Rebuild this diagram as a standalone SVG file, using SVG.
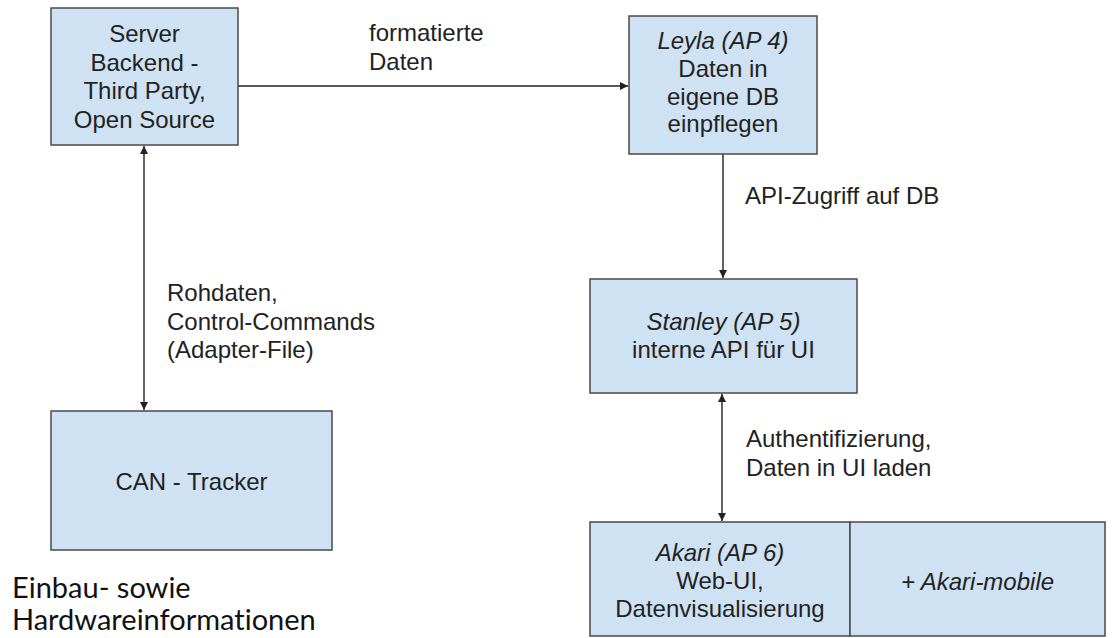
<svg xmlns="http://www.w3.org/2000/svg" width="1114" height="638" viewBox="0 0 1114 638">
<style>
.box{fill:#cfe2f3;stroke:#4a4a4a;stroke-width:1.5}
.t{font-family:"Liberation Sans",Arial,sans-serif;font-size:24px;fill:#222;text-anchor:middle}
.lbl{font-family:"Liberation Sans",Arial,sans-serif;font-size:24px;fill:#222}
.i{font-style:italic}
.c{stroke:#222;stroke-width:1.4;fill:none}
.note{font-family:Lato,"Open Sans",sans-serif;font-size:29px;fill:#111;font-variant-ligatures:none}
</style>
<defs>
<marker id="ah" viewBox="0 0 10 10" refX="10" refY="5" markerWidth="8" markerHeight="8" markerUnits="userSpaceOnUse" orient="auto-start-reverse">
<path d="M0,0 L10,5 L0,10 z" fill="#222"/>
</marker>
</defs>
<rect width="1114" height="638" fill="#ffffff"/>
<g id="connectors">
<line class="c" x1="144" y1="146" x2="144" y2="410" marker-start="url(#ah)" marker-end="url(#ah)"/>
<line class="c" x1="238" y1="86" x2="628" y2="86" marker-end="url(#ah)"/>
<line class="c" x1="723" y1="154" x2="723" y2="278" marker-end="url(#ah)"/>
<line class="c" x1="722" y1="394" x2="722" y2="521" marker-start="url(#ah)" marker-end="url(#ah)"/>
</g>
<g id="labels">
<text class="lbl" x="369" y="41">formatierte</text>
<text class="lbl" x="369" y="70">Daten</text>
<text class="lbl" x="745" y="204">API-Zugriff auf DB</text>
<text class="lbl" x="167" y="301">Rohdaten,</text>
<text class="lbl" x="167" y="330">Control-Commands</text>
<text class="lbl" x="167" y="358">(Adapter-File)</text>
<text class="lbl" x="746" y="447">Authentifizierung,</text>
<text class="lbl" x="746" y="476">Daten in UI laden</text>
</g>
<g id="server">
<rect class="box" x="51" y="8" width="187" height="137"/>
<text class="t" x="144.5" y="42">Server</text>
<text class="t" x="144.5" y="71">Backend -</text>
<text class="t" x="144.5" y="99">Third Party,</text>
<text class="t" x="144.5" y="128">Open Source</text>
</g>
<g id="leyla">
<rect class="box" x="629" y="16" width="188" height="138"/>
<text class="t i" x="723" y="49">Leyla (AP 4)</text>
<text class="t" x="723" y="77">Daten in</text>
<text class="t" x="723" y="105">eigene DB</text>
<text class="t" x="723" y="132">einpflegen</text>
</g>
<g id="stanley">
<rect class="box" x="590" y="279" width="267" height="114"/>
<text class="t i" x="723.5" y="330">Stanley (AP 5)</text>
<text class="t" x="723.5" y="358">interne API für UI</text>
</g>
<g id="can">
<rect class="box" x="51" y="411" width="281" height="139"/>
<text class="t" x="191.5" y="490">CAN - Tracker</text>
</g>
<g id="akari">
<rect class="box" x="590" y="522" width="260" height="114"/>
<text class="t i" x="720" y="561">Akari (AP 6)</text>
<text class="t" x="720" y="589">Web-UI,</text>
<text class="t" x="720" y="617">Datenvisualisierung</text>
</g>
<g id="akari-mobile">
<rect class="box" x="850" y="522" width="255" height="114"/>
<text class="t i" x="977.5" y="590">+ Akari-mobile</text>
</g>
<g id="note">
<text class="note" x="12" y="598">Einbau- sowie</text>
<text class="note" x="12" y="630">Hardwareinformationen</text>
</g>
</svg>
